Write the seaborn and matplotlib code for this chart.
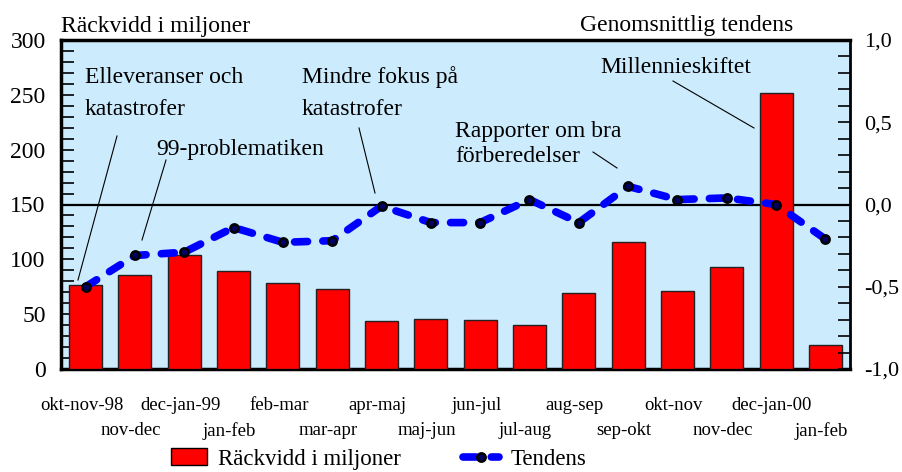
import matplotlib
matplotlib.use("Agg")
import matplotlib.pyplot as plt
import matplotlib.transforms as mtransforms
from matplotlib.lines import Line2D
from matplotlib.patches import Patch
from matplotlib.ticker import MultipleLocator, FixedLocator
import seaborn as sns
import pandas as pd
import numpy as np

# ---- data ----
categories = ["okt-nov-98", "nov-dec", "dec-jan-99", "jan-feb", "feb-mar", "mar-apr",
              "apr-maj", "maj-jun", "jun-jul", "jul-aug", "aug-sep", "sep-okt",
              "okt-nov", "nov-dec", "dec-jan-00", "jan-feb"]
reach = [77, 86, 104, 89, 78, 73, 44, 46, 45, 40, 69, 116, 71, 93, 252, 22]
trend = [-0.50, -0.31, -0.29, -0.14, -0.23, -0.22, -0.01, -0.11, -0.11, 0.03,
         -0.11, 0.11, 0.03, 0.04, 0.00, -0.21]
left_ticks = [0, 50, 100, 150, 200, 250, 300]
right_ticks = [-1.0, -0.5, 0.0, 0.5, 1.0]
right_tick_labels = ["-1,0", "-0,5", "0,0", "0,5", "1,0"]

annotations = [
    # (lines, text x px, baseline y px list, leader from (x,y) to (x,y) in px)
    (["Elleveranser och", "katastrofer"], 85, [83, 115], (117, 136), (78, 280)),
    (["99-problematiken"], 156, [155], (166, 160), (142, 240)),
    (["Mindre fokus på", "katastrofer"], 302, [83, 115], (359, 128), (375, 193)),
    (["Rapporter om bra", "förberedelser"], 455, [137, 162], (593, 152), (617, 168)),
    (["Millennieskiftet"], 600, [73], (673, 81), (754, 128)),
]

plt.rcParams['font.family'] = ['Liberation Serif', 'DejaVu Serif']

W, H = 903, 472
fig = plt.figure(figsize=(W / 100, H / 100), dpi=100)
ax = fig.add_axes([61 / W, 1 - 369 / H, (850 - 61) / W, (369 - 40) / H])
ax.set_facecolor('#CCEBFD')

df = pd.DataFrame({"idx": np.arange(len(categories)), "reach": reach, "trend": trend})

sns.barplot(data=df, x="idx", y="reach", ax=ax, color='#FF0000', saturation=1,
            width=0.67, edgecolor='#222222', linewidth=1.0, zorder=3)
ax.axhline(150, color='black', lw=1.6, zorder=2)
ax.set_xlim(-0.5, len(categories) - 0.5)
ax.set_ylim(0, 300)
ax.set_yticks(left_ticks)
ax.yaxis.set_minor_locator(MultipleLocator(10))
ax.tick_params(axis='y', which='both', direction='in', length=9, width=1.2,
               labelsize=17, pad=11)

even = list(range(0, len(categories), 2))
odd = list(range(1, len(categories), 2))
ax.set_xticks(even)
ax.set_xticklabels([categories[i] for i in even])
ax.set_xticks(odd, minor=True)
ax.set_xticklabels([categories[i] for i in odd], minor=True)
ax.tick_params(axis='x', which='major', length=0, labelsize=13.5, pad=20)
ax.tick_params(axis='x', which='minor', length=0, labelsize=13.5, pad=38)
offset = mtransforms.ScaledTranslation(-0.04, 0, fig.dpi_scale_trans)
for t in ax.get_xticklabels() + ax.get_xticklabels(minor=True):
    t.set_transform(t.get_transform() + offset)
ax.set_xlabel("")
ax.set_ylabel("")
for s in ['left', 'bottom', 'top']:
    ax.spines[s].set_linewidth(2.5)
ax.spines['right'].set_linewidth(2)

ax2 = ax.twinx()
sns.lineplot(data=df, x="idx", y="trend", ax=ax2, color='#0000FF', lw=5.5,
             marker='o', markersize=6, markerfacecolor='#000060',
             markeredgecolor='black', markeredgewidth=1.8, zorder=5)
ln = ax2.get_lines()[0]
ln.set_dashes((1.7, 2.0))
ln.set_dash_capstyle('round')
ax2.set_ylim(-1, 1)
ax2.yaxis.set_major_locator(FixedLocator(right_ticks))
ax2.set_yticklabels(right_tick_labels)
ax2.yaxis.set_minor_locator(MultipleLocator(0.1))
ax2.tick_params(axis='y', which='both', direction='in', length=9, width=1.2,
                labelsize=16, pad=10)
ax2.set_ylabel("")
ax2.set_xlim(-0.5, len(categories) - 0.5)
for s in ['left', 'bottom', 'top', 'right']:
    ax2.spines[s].set_visible(False)
ax.spines['right'].set_visible(True)

# titles
fig.text(61 / W, 1 - 32 / H, "Räckvidd i miljoner", ha='left', va='baseline', fontsize=17)
fig.text(793 / W, 1 - 31 / H, "Genomsnittlig tendens", ha='right', va='baseline', fontsize=17)

# annotations
for lines, tx, bys, p1, p2 in annotations:
    for line, by in zip(lines, bys):
        fig.text(tx / W, 1 - by / H, line, ha='left', va='baseline', fontsize=17, zorder=10)
    fig.add_artist(Line2D([p1[0] / W, p2[0] / W], [1 - p1[1] / H, 1 - p2[1] / H],
                          transform=fig.transFigure, color='black', lw=0.8, zorder=10))

# legend
h1 = Patch(facecolor='#FF0000', edgecolor='black', linewidth=1.0)
h2 = Line2D([], [], color='#0000FF', lw=5.5, marker='o', markersize=6,
            markerfacecolor='#000060', markeredgecolor='black', markeredgewidth=1.8,
            dashes=(1.7, 2.0), dash_capstyle='round')
fig.legend([h1, h2], ["Räckvidd i miljoner", "Tendens"], loc='center left',
           bbox_to_anchor=(160 / W, 1 - 459 / H), ncol=2, frameon=False,
           fontsize=16.5, borderpad=0, handlelength=1.55, handletextpad=0.5,
           columnspacing=2.7, numpoints=1)

fig.savefig("out.png", dpi=100)
